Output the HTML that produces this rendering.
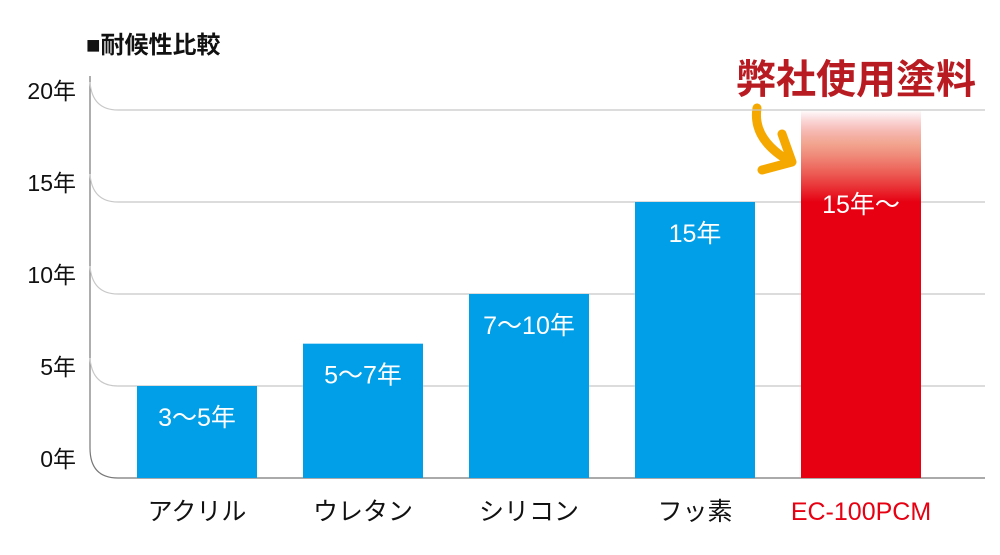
<!DOCTYPE html>
<html><head><meta charset="utf-8"><style>
body{margin:0;background:#fff}
svg text{font-family:"Liberation Sans","Noto Sans CJK JP",sans-serif}
</style></head><body>
<svg id="chart" width="1000" height="550" viewBox="0 0 1000 550" xmlns="http://www.w3.org/2000/svg">
<defs>
<linearGradient id="fade" x1="0" y1="0" x2="0" y2="1">
<stop offset="0" stop-color="#e60012" stop-opacity="0"/>
<stop offset="0.35" stop-color="#e8603a" stop-opacity="0.55"/>
<stop offset="1" stop-color="#e60012" stop-opacity="1"/>
</linearGradient>
</defs>
<text x="86" y="53" font-size="24" font-weight="bold" fill="#111">■耐候性比較</text>
<text x="736" y="93" font-size="40" font-weight="bold" fill="#b81c22">弊社使用塗料</text>
<path d="M757 108 Q752 140 791 162 M782 134 L792 162 L762 170" fill="none" stroke="#f5a800" stroke-width="9" stroke-linecap="round" stroke-linejoin="round"/>
<g id="grid"></g>
<g id="bars"></g>
</svg>
<script>
const categories = ["アクリル","ウレタン","シリコン","フッ素","EC-100PCM"];
const values = [5, 7.3, 10, 15, 15];
const extension = [0, 0, 0, 0, 5];
const valueLabels = ["3〜5年","5〜7年","7〜10年","15年","15年〜"];
const yTicks = [0,5,10,15,20];
const tickLabels = ["0年","5年","10年","15年","20年"];

const NS="http://www.w3.org/2000/svg";
const y0=478, pxPerYear=18.4;
const y=v=>y0-v*pxPerYear;
const x=i=>137+i*166;
const bw=120;
const grid=document.getElementById('grid');
const bars=document.getElementById('bars');
function mk(tag,attrs,parent){const e=document.createElementNS(NS,tag);for(const k in attrs)e.setAttribute(k,attrs[k]);parent.appendChild(e);return e;}

const axis=mk('path',{d:`M90 76 L90 ${y0-30} Q90 ${y0} 118 ${y0} L985 ${y0}`,fill:'none',stroke:'#777','stroke-width':1.2},grid);


yTicks.forEach((t,i)=>{
  const gy=y(t);
  if(t>0){
    const g=mk('path',{d:`M90 ${gy-28} Q92 ${gy} 118 ${gy} L985 ${gy}`,fill:'none',stroke:'#c8c8c8','stroke-width':1.2},grid);
    
    
  }
  const tx=mk('text',{x:76,y:gy-11,'font-size':23,'text-anchor':'end',fill:'#111'},grid);
  tx.textContent=tickLabels[i];
  
  
});
categories.forEach((c,i)=>{
  const red=i===4;
  if(extension[i]>0){
    const f=mk('rect',{x:x(i),y:y(values[i]+extension[i]),width:bw,height:extension[i]*pxPerYear,fill:'url(#fade)'},bars);
    
    
  }
  const r=mk('rect',{x:x(i),y:y(values[i]),width:bw,height:values[i]*pxPerYear,fill:red?'#e60012':'#009fe8'},bars);
  
  
  const vl=mk('text',{x:x(i)+bw/2,y:y(values[i])+(red?11:40),'font-size':25,'text-anchor':'middle',fill:'#fff'},bars);
  vl.textContent=valueLabels[i];
  
  
  const cl=mk('text',{x:x(i)+bw/2,y:520,'font-size':25,'text-anchor':'middle',fill:red?'#e60012':'#111'},bars);
  cl.textContent=c;
  
  
});
</script>
</body></html>
